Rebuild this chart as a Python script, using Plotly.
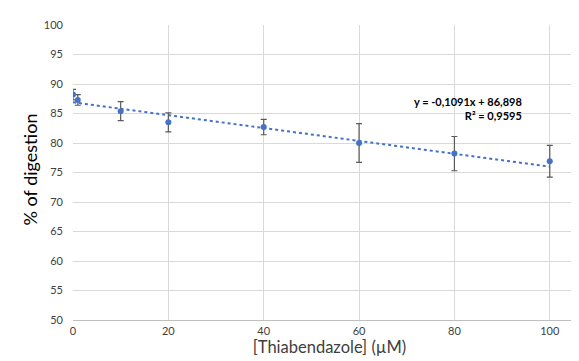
import plotly.graph_objects as go

conc = [0, 1, 10, 20, 40, 60, 80, 100]
digestion = [88.2, 87.3, 85.4, 83.5, 82.7, 80.0, 78.2, 76.9]
err = [0.9, 0.9, 1.6, 1.6, 1.3, 3.3, 2.9, 2.7]
slope = -0.1091
intercept = 86.898
r2 = 0.9595
trend_x = [0, 100]
trend_y = [intercept + slope * x for x in trend_x]

FONT = "Lato"

fig = go.Figure()
fig.add_trace(go.Scatter(
    x=trend_x, y=trend_y, mode="lines",
    line=dict(color="#4472C4", width=2, dash="dot"), showlegend=False))
fig.add_trace(go.Scatter(
    x=conc, y=digestion, mode="markers",
    marker=dict(color="#4472C4", size=6),
    error_y=dict(type="data", array=err, visible=True, color="#595959", thickness=1.2, width=3),
    showlegend=False))

fig.add_annotation(x=94.5, y=85.9, xref="x", yref="y",
                   text="<b>y = -0,1091x + 86,898</b><br><b>R² = 0,9595</b>",
                   showarrow=False, align="right", xanchor="right", yanchor="middle",
                   font=dict(family=FONT, size=11, color="#000000"))

# y-axis title placed as annotation to match the reference's vertical offset
fig.add_annotation(x=-0.084, y=0.51, xref="paper", yref="paper",
                   text="% of digestion", textangle=-90, showarrow=False,
                   xanchor="center", yanchor="middle",
                   font=dict(family=FONT, size=18, color="#000000"))

fig.update_layout(
    width=579, height=361,
    margin=dict(l=65, r=1, t=17, b=49, autoexpand=False),
    plot_bgcolor="white", paper_bgcolor="white",
    font=dict(family=FONT, color="#404040"),
    xaxis=dict(range=[0, 107.6], tickvals=[0, 20, 40, 60, 80, 100], showgrid=True,
               gridcolor="#d9d9d9", gridwidth=1, zeroline=False, automargin=False,
               showline=True, linecolor="#bfbfbf", linewidth=1,
               tickfont=dict(size=11, color="#404040"), ticklabelstandoff=1,
               title=dict(text="[Thiabendazole] (µM)", font=dict(size=16.5, color="#404040"), standoff=4)),
    yaxis=dict(range=[50, 100], dtick=5, showgrid=True,
               gridcolor="#d9d9d9", gridwidth=1, zeroline=False, automargin=False,
               showline=False, ticks="",
               tickfont=dict(size=11, color="#404040"), ticklabelstandoff=9),
)

fig.write_html("out.html")
